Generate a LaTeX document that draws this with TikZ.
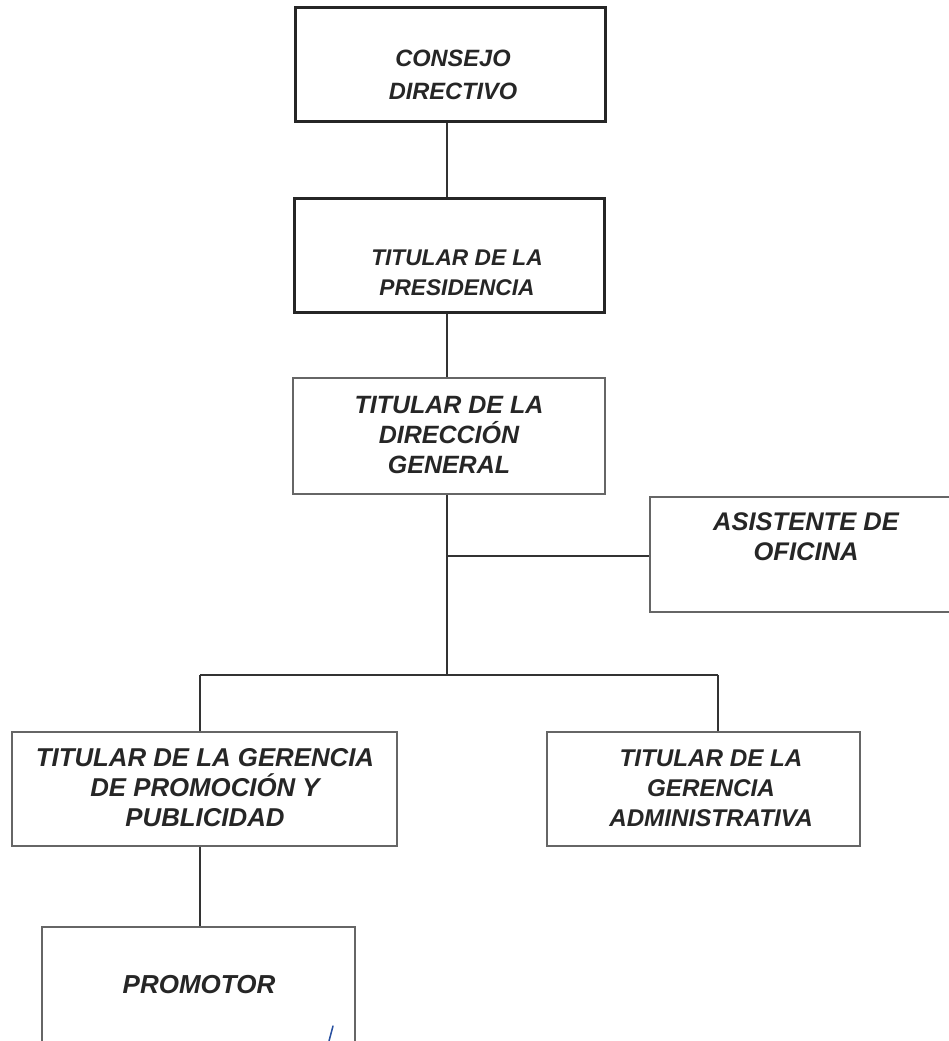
\documentclass[tikz,border=0pt]{standalone}
\usepackage{fontspec}
\setmainfont{Liberation Sans}
\usetikzlibrary{calc}
\begin{document}
\begin{tikzpicture}[x=1pt,y=-1pt,
  thickbox/.style={draw=black!85,line width=3pt,minimum width=310pt,minimum height=114pt,inner sep=0pt},
  thinbox/.style={draw=black!60,line width=1.6pt,inner sep=0pt},
  lbl/.style={align=center,inner sep=0pt,text=black!85},
  fs/.style={font=\fontsize{#1}{30}\selectfont\bfseries\itshape},
  conn/.style={draw=black!80,line width=2pt}]
\useasboundingbox[fill=white] (0,0) rectangle (949,1041);
% boxes
\node[thickbox] (cd) at (450,64.5) {};
\node[lbl,fs=23.6] (cdt) at (453,75) {CONSEJO\\[3pt]DIRECTIVO};
\node[thickbox] (pr) at (449,255.5) {};
\node[lbl,fs=22.7] (prt) at (457,273) {TITULAR DE LA\\PRESIDENCIA};
\node[thinbox,minimum width=312pt,minimum height=116pt] (dg) at (449,436) {};
\node[lbl,fs=25] (dgt) at (449,435) {TITULAR DE LA\\DIRECCIÓN\\GENERAL};
\node[thinbox,minimum width=312pt,minimum height=115pt] (as) at (806,554.5) {};
\node[lbl,fs=25.5] (ast) at (806,537) {ASISTENTE DE\\OFICINA};
\node[thinbox,minimum width=385pt,minimum height=114pt] (gp) at (204.5,789) {};
\node[lbl,fs=25.8] (gpt) at (205,788) {TITULAR DE LA GERENCIA\\DE PROMOCIÓN Y\\PUBLICIDAD};
\node[thinbox,minimum width=313pt,minimum height=114pt] (ga) at (703.5,789) {};
\node[lbl,fs=24.2] (gat) at (711,788) {TITULAR DE LA\\GERENCIA\\ADMINISTRATIVA};
\node[thinbox,minimum width=313pt,minimum height=116pt] (pm) at (198.5,985) {};
\node[lbl,fs=26] (pmt) at (199,985) {PROMOTOR};
% connectors
\coordinate (j1) at (447,556);
\coordinate (j2) at (447,675);
\coordinate (bl) at (200,675);
\coordinate (br) at (718,675);
\draw[conn] (cd.south -| j1) -- (pr.north -| j1);
\draw[conn] (pr.south -| j1) -- (dg.north -| j1);
\draw[conn] (dg.south -| j1) -- (j2);
\draw[conn] (j1) -- (as.west |- j1);
\draw[conn] (bl) -- (br);
\draw[conn] (bl) -- (bl |- gp.north);
\draw[conn] (br) -- (br |- ga.north);
\draw[conn] (bl |- gp.south) -- (bl |- pm.north);
% blue pen mark
\draw[draw={rgb,255:red,40;green,80;blue,160},line width=1.5pt,line cap=round] (333,1026) -- (329,1041);
\end{tikzpicture}
\end{document}
